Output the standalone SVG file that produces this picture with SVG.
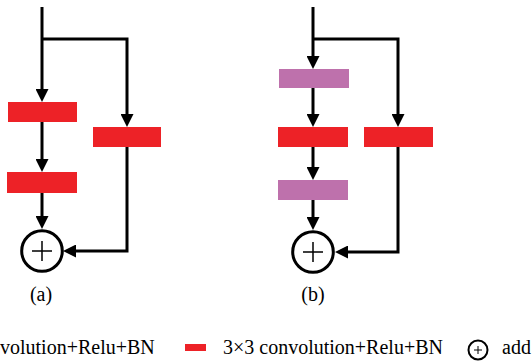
<svg xmlns="http://www.w3.org/2000/svg" width="532" height="361" viewBox="0 0 532 361">
<style>
.conv{fill:#ed2227}
.pool{fill:#be71ac}
.wire{fill:none;stroke:#000;stroke-width:3;marker-end:url(#ah)}
.add{fill:#fff;stroke:#000;stroke-width:3}
.plus{stroke:#000;stroke-width:1.5}
.t{font-family:'Liberation Serif',serif;font-size:20px;fill:#000}
</style>
<defs>
<marker id="ah" markerUnits="userSpaceOnUse" markerWidth="13" markerHeight="13" refX="5" refY="6.5" orient="auto">
<path d="M0,0 L13,6.5 L0,13 z" fill="#000"/>
</marker>
</defs>
<rect width="532" height="361" fill="#fff"/>
<g id="connectors">
<path class="wire" d="M42,7 V94"/>
<path class="wire" d="M42,39 H127 V119"/>
<path class="wire" d="M42,122 V164"/>
<path class="wire" d="M42,193 V221"/>
<path class="wire" d="M127,147 V251 H71"/>
<path class="wire" d="M313,7 V61"/>
<path class="wire" d="M313,39 H398 V119"/>
<path class="wire" d="M313,88 V119"/>
<path class="wire" d="M313,147 V172"/>
<path class="wire" d="M313,200 V222"/>
<path class="wire" d="M398,147 V252 H343"/>
</g>
<g id="a-conv1"><rect class="conv" x="8" y="102" width="69" height="20"/></g>
<g id="a-conv2"><rect class="conv" x="7" y="172" width="70" height="21"/></g>
<g id="a-conv3"><rect class="conv" x="93" y="127" width="68" height="20"/></g>
<g id="a-add"><circle class="add" cx="42" cy="251" r="20.3"/><path class="plus" d="M32,251 H52 M42,241 V261"/></g>
<g id="a-label"><text class="t" font-family="Liberation Serif, serif" x="41" y="301" text-anchor="middle">(a)</text></g>
<g id="b-pool1"><rect class="pool" x="279" y="69" width="70" height="19"/></g>
<g id="b-conv1"><rect class="conv" x="278" y="127" width="70" height="20"/></g>
<g id="b-pool2"><rect class="pool" x="278" y="180" width="70" height="20"/></g>
<g id="b-conv2"><rect class="conv" x="364" y="127" width="69" height="20"/></g>
<g id="b-add"><circle class="add" cx="313" cy="252" r="20.3"/><path class="plus" d="M303,252 H323 M313,242 V262"/></g>
<g id="b-label"><text class="t" x="313" y="301" text-anchor="middle">(b)</text></g>
<g id="legend">
<text class="t" x="0" y="354">volution+Relu+BN</text>
<rect class="conv" x="185" y="344" width="21" height="7"/>
<text class="t" x="223" y="354">3×3 convolution+Relu+BN</text>
<circle cx="478" cy="350" r="9.5" fill="none" stroke="#000" stroke-width="2"/>
<path d="M474,350 H482 M478,346 V354" stroke="#000" stroke-width="1"/>
<text class="t" x="502" y="354">add</text>
</g>
</svg>
